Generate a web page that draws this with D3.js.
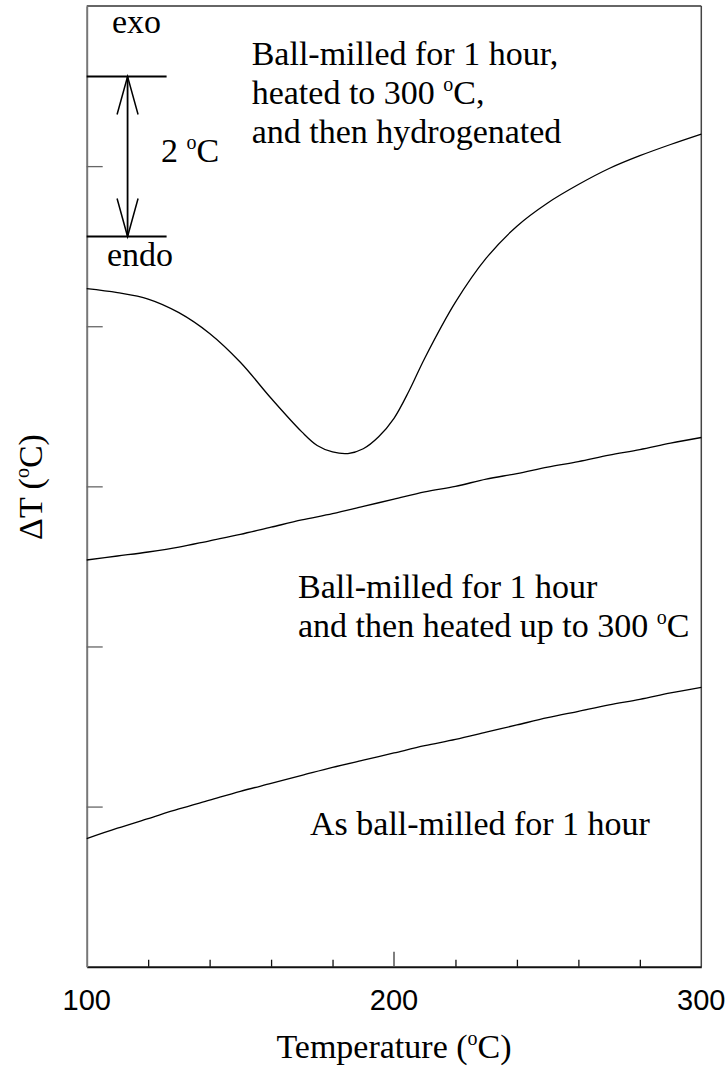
<!DOCTYPE html>
<html>
<head>
<meta charset="utf-8">
<script src="https://cdn.jsdelivr.net/npm/d3@7"></script>
<style>
  html, body { margin: 0; padding: 0; background: #fff; }
  svg { display: block; }
  .serif { font-family: "Liberation Serif", "Times New Roman", serif; fill: #000; }
  .sans { font-family: "Liberation Sans", Arial, sans-serif; fill: #000; }
</style>
</head>
<body>
<svg id="chart" width="728" height="1066"></svg>
<script>
// DTA traces: temperature (°C) vs. ΔT (°C, arbitrary offset per trace)
const temperature = [100, 110, 120, 130, 140, 150, 160, 170, 175, 180, 185, 190, 195,
                     200, 205, 210, 220, 230, 240, 250, 260, 270, 280, 290, 300];

const hydrogenated = [8.47, 8.42, 8.34, 8.17, 7.91, 7.55, 7.10, 6.68, 6.51, 6.43, 6.41, 6.47, 6.62,
                      6.85, 7.20, 7.60, 8.30, 8.85, 9.25, 9.54, 9.77, 9.97, 10.13, 10.27, 10.40];

const heatedTemps = [100, 110, 120, 130, 140, 150, 160, 170, 180, 190, 200,
                     210, 220, 230, 240, 250, 260, 270, 280, 290, 300];
const heated = [5.08, 5.13, 5.18, 5.24, 5.32, 5.40, 5.49, 5.58, 5.66, 5.75, 5.84,
                5.93, 6.00, 6.09, 6.16, 6.24, 6.31, 6.39, 6.46, 6.54, 6.61];

const asMilled = [1.60, 1.73, 1.85, 1.97, 2.08, 2.19, 2.29, 2.39, 2.49, 2.58, 2.67,
                  2.76, 2.84, 2.93, 3.02, 3.11, 3.19, 3.27, 3.34, 3.42, 3.49];

const xTickLabels = [100, 200, 300];
const xMinorTicks = [120, 140, 160, 180, 220, 240, 260, 280];
const yTicks = [2, 4, 6, 8, 10];

// 2 °C scale bar (exo up / endo down)
const scaleBarTop = 11.12;
const scaleBarSpan = 2;
const scaleBarX = [100, 126];
const scaleBarArrowX = 113.3;

const margin = { left: 86.7, right: 728 - 701.3, top: 6, bottom: 1066 - 966.7 };
const W = 728, H = 1066;

const x = d3.scaleLinear().domain([100, 300]).range([margin.left, W - margin.right]);
const y = d3.scaleLinear().domain([0, 12]).range([H - margin.bottom, margin.top]);

const svg = d3.select("#chart");

// frame
svg.append("line").attr("x1", x(100)).attr("x2", x(300)).attr("y1", y(12)).attr("y2", y(12))
  .attr("stroke", "#333").attr("stroke-width", 1.5);
svg.append("line").attr("x1", x(300)).attr("x2", x(300)).attr("y1", y(12)).attr("y2", y(0))
  .attr("stroke", "#444").attr("stroke-width", 1.5);

// bottom axis, ticks pointing inward
const gx = svg.append("g").attr("transform", `translate(0,${y(0)})`);
gx.call(d3.axisBottom(x).tickValues(xMinorTicks).tickSizeInner(-7).tickSizeOuter(0).tickFormat(""));
gx.select(".domain").attr("stroke", "#111").attr("stroke-width", 2);
gx.selectAll(".tick line").attr("stroke", "#111").attr("stroke-width", 1.3);
gx.append("line").attr("x1", x(200)).attr("x2", x(200)).attr("y1", 0).attr("y2", -15)
  .attr("stroke", "#555").attr("stroke-width", 1.5);
gx.selectAll(".lbl").data(xTickLabels).enter().append("text")
  .attr("class", "sans lbl")
  .attr("x", d => x(d)).attr("y", 43)
  .attr("text-anchor", "middle")
  .style("font-size", "29px")
  .text(d => d);

// left axis, ticks pointing inward
const gy = svg.append("g").attr("transform", `translate(${x(100)},0)`);
gy.call(d3.axisLeft(y).tickValues(yTicks).tickSizeInner(-16).tickSizeOuter(0).tickFormat(""));
gy.select(".domain").attr("stroke", "#777").attr("stroke-width", 2);
gy.selectAll(".tick line").attr("stroke", "#666").attr("stroke-width", 1.3);

// text with a raised small "o" used as the degree sign
function richText(sel, parts) {
  parts.forEach(p => {
    if (typeof p === "string") {
      sel.append("tspan").text(p);
    } else {
      sel.append("tspan").attr("dy", -13).style("font-size", "20px").text(p.raised);
      sel.append("tspan").attr("dy", 13).text(p.after);
    }
  });
  return sel;
}

// axis titles
richText(svg.append("text").attr("class", "serif")
  .attr("x", x(200)).attr("y", 1058).attr("text-anchor", "middle")
  .style("font-size", "34px"), ["Temperature (", { raised: "o", after: "C)" }]);

richText(svg.append("text").attr("class", "serif")
  .attr("transform", `translate(42,487) rotate(-90)`)
  .attr("text-anchor", "middle")
  .style("font-size", "34px"), ["\u0394T (", { raised: "o", after: "C)" }]);

// traces
const line = (xs) => d3.line()
  .x((d, i) => x(xs[i]))
  .y(d => y(d))
  .curve(d3.curveCatmullRom.alpha(0.5));

const traces = [
  { xs: temperature, ys: hydrogenated },
  { xs: heatedTemps, ys: heated },
  { xs: heatedTemps, ys: asMilled }
];
svg.append("g").selectAll("path").data(traces).enter().append("path")
  .attr("d", t => line(t.xs)(t.ys))
  .attr("fill", "none").attr("stroke", "#000").attr("stroke-width", 1.3);

// scale bar
const sb = svg.append("g").attr("stroke", "#000").attr("stroke-width", 2).attr("fill", "none");
const yTopBar = y(scaleBarTop), yBotBar = y(scaleBarTop - scaleBarSpan);
sb.append("line").attr("x1", x(scaleBarX[0])).attr("x2", x(scaleBarX[1])).attr("y1", yTopBar).attr("y2", yTopBar);
sb.append("line").attr("x1", x(scaleBarX[0])).attr("x2", x(scaleBarX[1])).attr("y1", yBotBar).attr("y2", yBotBar);
const ax = x(scaleBarArrowX);
sb.append("line").attr("x1", ax).attr("x2", ax).attr("y1", yTopBar).attr("y2", yBotBar).attr("stroke-width", 1.8);
sb.append("path").attr("stroke-width", 1.5)
  .attr("d", `M${ax - 10.5},${yTopBar + 38} L${ax},${yTopBar} L${ax + 10.5},${yTopBar + 38}`);
sb.append("path").attr("stroke-width", 1.5)
  .attr("d", `M${ax - 10.5},${yBotBar - 38} L${ax},${yBotBar} L${ax + 10.5},${yBotBar - 38}`);

// annotations
function label(xp, yp, parts) {
  return richText(svg.append("text").attr("class", "serif").attr("x", xp).attr("y", yp)
    .style("font-size", "34px"), parts);
}
label(112, 33, ["exo"]);
label(107, 266, ["endo"]);
label(161, 162, ["2 ", { raised: "o", after: "C" }]);

label(251.7, 65, ["Ball-milled for 1 hour,"]);
label(251.7, 104, ["heated to 300 ", { raised: "o", after: "C," }]);
label(251.7, 143, ["and then hydrogenated"]);

label(298, 598, ["Ball-milled for 1 hour"]);
label(298, 637, ["and then heated up to 300 ", { raised: "o", after: "C" }]);

label(310, 835, ["As ball-milled for 1 hour"]);
</script>
</body>
</html>
